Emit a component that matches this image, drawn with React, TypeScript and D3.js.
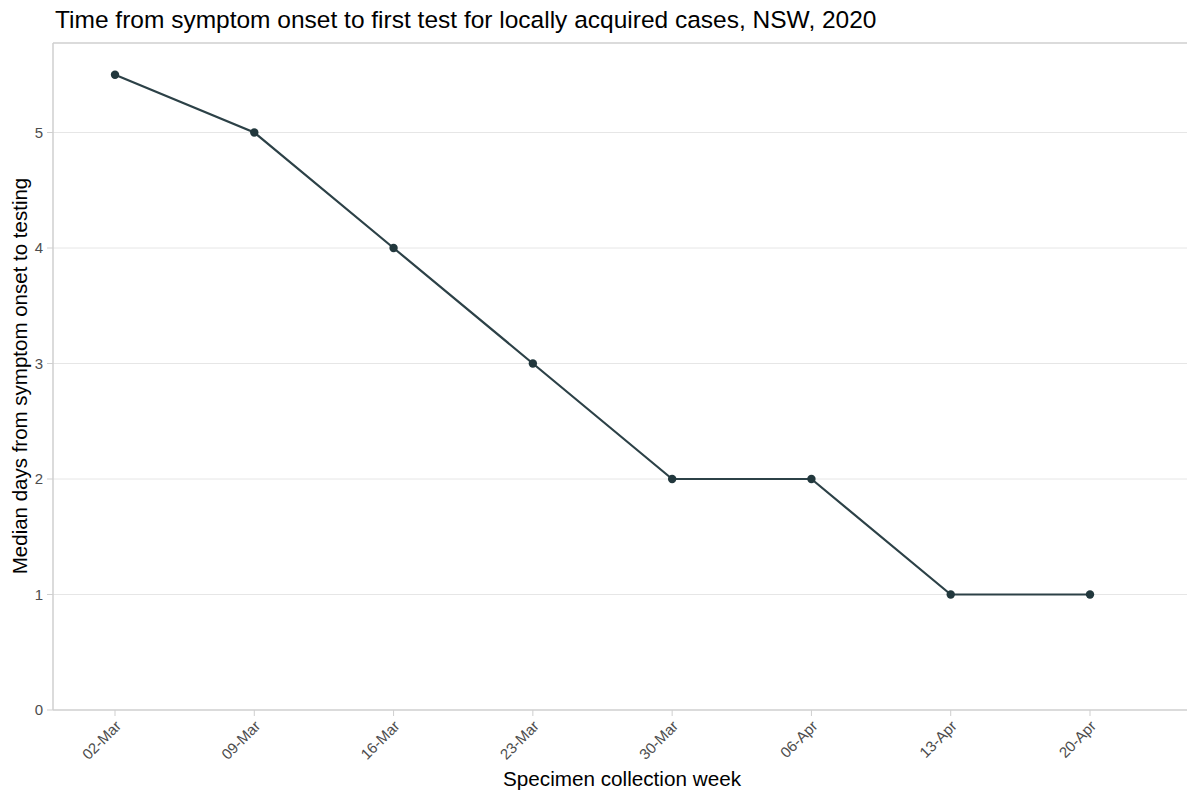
import React from "react";
import * as d3 from "d3";

const weeks = ["02-Mar", "09-Mar", "16-Mar", "23-Mar", "30-Mar", "06-Apr", "13-Apr", "20-Apr"];
const medianDays = [5.5, 5, 4, 3, 2, 2, 1, 1];
const yTicks = [0, 1, 2, 3, 4, 5];

const W = 1187;
const H = 792;
const panel = { left: 53, top: 43, right: 1187, bottom: 710 };
const FONT = "'Liberation Sans', Arial, sans-serif";

export default function App() {
  const x = d3.scalePoint<string>().domain(weeks).range([115, 1090]);
  const y = d3.scaleLinear().domain([0, 5.775]).range([panel.bottom, panel.top]);
  const line = d3
    .line<number>()
    .x((_, i) => x(weeks[i]) as number)
    .y((d) => y(d));

  return (
    <svg width={W} height={H} style={{ position: "absolute", left: 0, top: 0, background: "#fff" }} fontFamily={FONT}>
      <rect x={0} y={0} width={W} height={H} fill="#fff" />
      <text x={55} y={28} fontSize={24.5} fill="#000">
        Time from symptom onset to first test for locally acquired cases, NSW, 2020
      </text>
      {yTicks.filter((t) => t > 0).map((t) => (
        <line key={"g" + t} x1={panel.left} x2={panel.right} y1={y(t)} y2={y(t)} stroke="#e6e6e6" strokeWidth={1} />
      ))}
      <line x1={panel.left} x2={panel.right} y1={panel.top} y2={panel.top} stroke="#cfcfcf" strokeWidth={1.5} />
      <line x1={panel.left} x2={panel.left} y1={panel.top} y2={panel.bottom} stroke="#cfcfcf" strokeWidth={1.5} />
      <line x1={panel.left} x2={panel.right} y1={panel.bottom} y2={panel.bottom} stroke="#cfcfcf" strokeWidth={1.5} />
      {yTicks.map((t) => (
        <g key={"y" + t}>
          <line x1={panel.left - 6} x2={panel.left} y1={y(t)} y2={y(t)} stroke="#cfcfcf" strokeWidth={1} />
          <text x={43} y={y(t)} dy="0.36em" textAnchor="end" fontSize={15} fill="#4d4d4d">
            {t}
          </text>
        </g>
      ))}
      {weeks.map((w) => (
        <g key={"x" + w}>
          <line x1={x(w)} x2={x(w)} y1={panel.bottom} y2={panel.bottom + 6} stroke="#cfcfcf" strokeWidth={1} />
          <text
            transform={`translate(${(x(w) as number) + 7},${panel.bottom + 17}) rotate(-45)`}
            textAnchor="end"
            fontSize={15}
            fill="#4d4d4d"
          >
            {w}
          </text>
        </g>
      ))}
      <path d={line(medianDays) || ""} fill="none" stroke="#2c4147" strokeWidth={2.2} />
      {medianDays.map((v, i) => (
        <circle key={"p" + i} cx={x(weeks[i])} cy={y(v)} r={4.2} fill="#22383d" />
      ))}
      <text x={622} y={786} textAnchor="middle" fontSize={20.7} fill="#000">
        Specimen collection week
      </text>
      <text transform={`translate(27,376) rotate(-90)`} textAnchor="middle" fontSize={20.5} fill="#000">
        Median days from symptom onset to testing
      </text>
    </svg>
  );
}
